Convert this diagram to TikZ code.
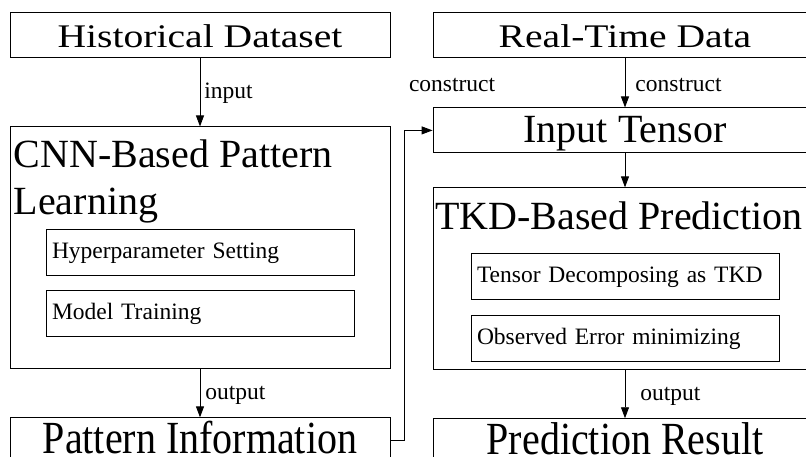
\documentclass[tikz,border=0pt]{standalone}
\usepackage{graphicx}
\usepackage{fontspec}
\setmainfont{Liberation Serif}
\usepackage{tikz}
\usetikzlibrary{arrows.meta, positioning}

\newcommand{\bigfont}{\fontsize{40}{47}\selectfont}
\newcommand{\headfont}{\fontsize{33}{40}\selectfont}
\newcommand{\smallfont}{\fontsize{23.5}{28}\selectfont}
\newcommand{\wide}[1]{\scalebox{1.2}[1]{#1}}
\newcommand{\tall}[1]{\scalebox{1}[1.15]{#1}}

\tikzset{
  bigbox/.style={draw, rectangle, line width=0.9pt, minimum width=380pt, minimum height=45pt, inner sep=3pt, text height=27pt, text depth=2pt, font=\bigfont},
  headbox/.style={bigbox, text height=25pt, text depth=0pt, font=\headfont},
  footbox/.style={bigbox, text height=26pt, text depth=0pt},
  subbox/.style={draw, rectangle, line width=0.9pt, minimum width=308pt, minimum height=46pt, text width=296pt, inner xsep=6pt, align=left, font=\smallfont},
  lbl/.style={font=\smallfont, inner sep=0pt},
  flow/.style={line width=0.9pt, -{Triangle[length=11pt, width=8pt]}}
}

\begin{document}
\begin{tikzpicture}[x=1pt, y=-1pt]
  \path[use as bounding box, clip] (0,0) rectangle (806,456);

  % Left column
  \node[headbox] (hist) at (200,34.5) {\wide{Historical Dataset}};
  \node[bigbox, minimum height=242pt, below=69pt of hist] (cnn) {};
  \node[anchor=north west, align=left, inner sep=3pt, font=\bigfont] (cnntitle) at ([shift={(1pt,-10pt)}]cnn.north west) {CNN-Based Pattern\\Learning};
  \node[subbox, below=103pt of cnn.north] (hyper) {Hyperparameter Setting};
  \node[subbox, below=14pt of hyper] (train) {Model Training};
  \node[footbox, below=48pt of cnn] (pinfo) {\tall{Pattern Information}};

  % Right column
  \node[headbox, minimum width=384pt] (rtd) at (625,34.5) {\wide{Real-Time Data}};
  \node[bigbox, minimum width=384pt, below=50pt of rtd] (tensor) {Input Tensor};
  \node[bigbox, minimum width=384pt, minimum height=182pt, below=34pt of tensor] (tkd) {};
  \node[anchor=base west, inner sep=0pt, font=\bigfont] (tkdtitle) at ([shift={(2.5pt,-42pt)}]tkd.north west) {TKD-Based Prediction};
  \node[subbox, below=66pt of tkd.north] (decomp) {Tensor Decomposing as TKD};
  \node[subbox, below=15pt of decomp] (errmin) {Observed Error minimizing};
  \node[footbox, minimum width=384pt, below=48pt of tkd] (pres) {\tall{Prediction Result}};

  % Arrows
  \draw[flow] (hist) -- node[lbl, right, xshift=4pt, yshift=-1pt] {input} (cnn);
  \draw[flow] (cnn) -- node[lbl, right, xshift=5pt, yshift=-2pt] {output} (pinfo);
  \draw[flow] (rtd) -- node[lbl, right, xshift=10pt, yshift=-3pt] {construct} (tensor);
  \draw[flow] (tensor) -- (tkd);
  \draw[flow] (tkd) -- node[lbl, right, xshift=15pt, yshift=-2pt] {output} (pres);
  \draw[flow] (pinfo.east) -- ++(14pt,0) |- (tensor.west)
    node[lbl, pos=1, anchor=base west, xshift=-24pt, yshift=38.5pt] {construct};
\end{tikzpicture}
\end{document}
